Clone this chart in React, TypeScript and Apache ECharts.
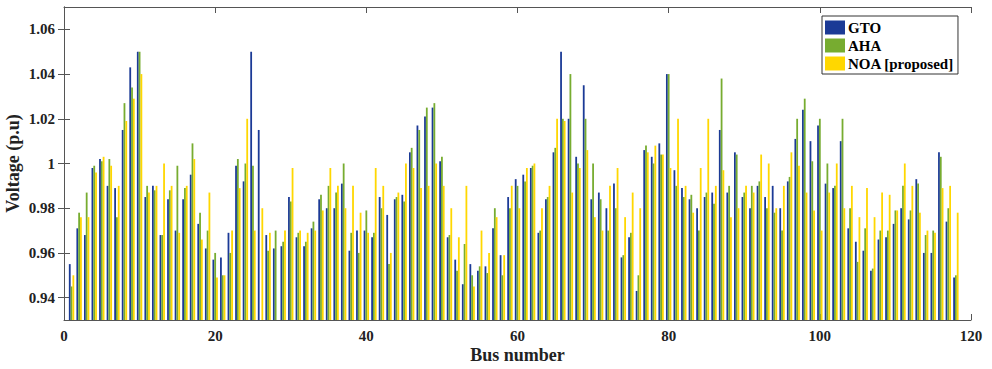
import React, { useEffect, useRef } from "react";
import * as echarts from "echarts";

const buses: number[] = Array.from({ length: 118 }, (_, i) => i + 1);

const gto: number[] = [
  0.955, 0.971, 0.968, 0.998, 1.002, 0.990, 0.989, 1.015, 1.043, 1.050,
  0.985, 0.990, 0.968, 0.984, 0.970, 0.984, 0.995, 0.973, 0.962, 0.957,
  0.958, 0.969, 0.999, 0.992, 1.050, 1.015, 0.968, 0.962, 0.963, 0.985,
  0.967, 0.963, 0.971, 0.984, 0.980, 0.980, 0.991, 0.961, 0.970, 0.970,
  0.967, 0.985, 0.977, 0.984, 0.986, 1.005, 1.017, 1.021, 1.025, 1.001,
  0.967, 0.957, 0.946, 0.955, 0.952, 0.954, 0.971, 0.959, 0.985, 0.993,
  0.995, 0.998, 0.969, 0.984, 1.005, 1.050, 1.020, 1.003, 1.035, 0.984,
  0.987, 0.980, 0.991, 0.958, 0.967, 0.943, 1.006, 1.003, 1.009, 1.040,
  0.997, 0.989, 0.984, 0.980, 0.985, 0.987, 1.015, 0.987, 1.005, 0.985,
  0.980, 0.990, 0.985, 0.990, 0.980, 0.992, 1.011, 1.024, 1.010, 1.017,
  0.991, 0.989, 1.010, 0.971, 0.965, 0.961, 0.952, 0.966, 0.967, 0.973,
  0.980, 0.975, 0.993, 0.960, 0.960, 1.005, 0.974, 0.949,
];

const aha: number[] = [
  0.945, 0.978, 0.987, 0.999, 1.001, 1.002, 0.976, 1.027, 1.034, 1.050,
  0.990, 0.988, 0.968, 0.988, 0.999, 0.989, 1.009, 0.978, 0.970, 0.960,
  0.950, 0.960, 1.002, 1.000, 0.999, 0.930, 0.961, 0.970, 0.965, 0.983,
  0.969, 0.965, 0.974, 0.986, 0.990, 0.987, 1.000, 0.969, 0.960, 0.979,
  0.969, 0.980, 0.955, 0.985, 0.983, 1.007, 1.015, 1.025, 1.027, 1.003,
  0.968, 0.952, 0.964, 0.950, 0.954, 0.951, 0.980, 0.950, 0.980, 0.990,
  0.992, 0.999, 0.970, 0.985, 1.007, 1.020, 1.040, 1.000, 1.020, 1.000,
  0.984, 0.970, 0.980, 0.959, 0.969, 0.950, 1.008, 1.000, 1.004, 1.040,
  0.990, 0.985, 0.986, 0.970, 0.987, 0.982, 1.038, 0.990, 1.004, 0.987,
  0.990, 0.992, 0.980, 0.978, 0.970, 0.994, 1.020, 1.029, 1.001, 1.020,
  1.000, 0.990, 1.020, 0.980, 0.956, 0.971, 0.953, 0.970, 0.970, 0.979,
  0.990, 0.979, 0.991, 0.968, 0.970, 1.003, 0.980, 0.950,
];

const noa: number[] = [
  0.950, 0.976, 0.976, 0.996, 1.003, 0.999, 0.990, 1.019, 1.029, 1.040,
  0.987, 0.990, 1.000, 0.990, 0.969, 0.990, 1.002, 0.966, 0.987, 0.949,
  0.950, 0.970, 0.989, 1.020, 0.970, 0.980, 0.969, 0.930, 0.970, 0.998,
  0.970, 0.969, 0.970, 0.979, 0.998, 0.990, 0.980, 0.990, 0.978, 0.969,
  0.998, 0.990, 0.960, 0.987, 1.000, 0.998, 0.989, 0.990, 1.000, 0.990,
  0.980, 0.967, 0.990, 0.945, 0.970, 0.960, 0.976, 0.959, 0.990, 0.980,
  0.998, 1.000, 0.980, 0.990, 1.020, 1.019, 0.987, 0.998, 1.006, 0.976,
  0.970, 0.990, 0.998, 0.976, 0.987, 0.980, 1.005, 1.008, 1.004, 0.998,
  1.020, 0.990, 0.978, 0.998, 1.020, 0.990, 0.997, 0.976, 0.980, 0.990,
  0.987, 1.004, 1.000, 0.980, 0.990, 1.005, 0.999, 0.987, 0.979, 0.970,
  0.987, 1.000, 0.980, 0.990, 0.976, 0.989, 0.976, 0.987, 0.986, 0.979,
  1.000, 0.990, 0.978, 0.970, 0.969, 0.989, 0.990, 0.978,
];

const seriesNames: string[] = ["GTO", "AHA", "NOA [proposed]"];
const seriesColors: string[] = ["#1b3a96", "#77ac30", "#ffd700"];
const yTicks: number[] = [0.94, 0.96, 0.98, 1.0, 1.02, 1.04, 1.06];

const FONT = "'Liberation Serif', 'Times New Roman', serif";

export default function App() {
  const ref = useRef<HTMLDivElement>(null);

  useEffect(() => {
    if (!ref.current) return;
    const chart = echarts.init(ref.current, null, { renderer: "svg" });
    const axisColor = "#555";
    const allData = [gto, aha, noa];

    const option: any = {
      animation: false,
      backgroundColor: "#fff",
      grid: { left: 64, right: 21, top: 7, bottom: 49, containLabel: false, outerBoundsMode: "none" },
      legend: {
        data: seriesNames,
        orient: "vertical",
        left: 822,
        top: 16,
        backgroundColor: "#fff",
        borderColor: "#333",
        borderWidth: 1,
        padding: [4, 4, 3, 3],
        itemWidth: 20,
        itemHeight: 14,
        itemGap: 3,
        icon: "rect",
        textStyle: {
          fontFamily: FONT,
          fontWeight: "bold",
          fontSize: 15,
          color: "#000",
          padding: [0, 0, 0, -2],
        },
      },
      xAxis: [
        {
          type: "value",
          min: 0,
          max: 120,
          interval: 20,
          name: "Bus number",
          nameLocation: "middle",
          nameGap: 26,
          nameMoveOverlap: false,
          nameTextStyle: { fontFamily: FONT, fontWeight: "bold", fontSize: 18, color: "#222" },
          axisLine: { lineStyle: { color: axisColor, width: 1 } },
          axisTick: { inside: true, length: 6, lineStyle: { color: axisColor } },
          axisLabel: { fontFamily: FONT, fontWeight: "bold", fontSize: 15, color: "#222", margin: 8 },
          splitLine: { show: false },
        },
        {
          type: "value",
          position: "top",
          min: 0,
          max: 120,
          interval: 20,
          axisLine: { lineStyle: { color: axisColor, width: 1 } },
          axisTick: { inside: true, length: 6, lineStyle: { color: axisColor } },
          axisLabel: { show: false },
          splitLine: { show: false },
        },
      ],
      yAxis: [
        {
          type: "value",
          min: 0.93,
          max: 1.07,
          name: "Voltage (p.u)",
          nameLocation: "middle",
          nameGap: 42,
          nameMoveOverlap: false,
          nameTextStyle: { fontFamily: FONT, fontWeight: "bold", fontSize: 18, color: "#222" },
          axisLine: { show: true, lineStyle: { color: axisColor, width: 1 } },
          axisTick: { show: true, inside: true, length: 6, customValues: yTicks, lineStyle: { color: axisColor } },
          axisLabel: {
            fontFamily: FONT,
            fontWeight: "bold",
            fontSize: 15,
            color: "#222",
            margin: 9,
            customValues: yTicks,
            formatter: (v: number) => (Math.abs(v - 1) < 1e-9 ? "1" : v.toFixed(2)),
          },
          splitLine: { show: false },
        },
        {
          type: "value",
          position: "right",
          min: 0.93,
          max: 1.07,
          axisLine: { show: true, lineStyle: { color: axisColor, width: 1 } },
          axisTick: { show: true, inside: true, length: 6, customValues: yTicks, lineStyle: { color: axisColor } },
          axisLabel: { show: false },
          splitLine: { show: false },
        },
      ],
      series: seriesNames.map((name, si) => ({
        name,
        type: "bar",
        xAxisIndex: 0,
        yAxisIndex: 0,
        barWidth: 1.8,
        barGap: "0%",
        clip: true,
        itemStyle: { color: seriesColors[si] },
        data: buses.map((b, i) => [b, allData[si][i]]),
      })),
    };

    chart.setOption(option);
    return () => chart.dispose();
  }, []);

  return (
    <div
      ref={ref}
      style={{ position: "fixed", left: 0, top: 0, width: 992, height: 369 }}
    />
  );
}
